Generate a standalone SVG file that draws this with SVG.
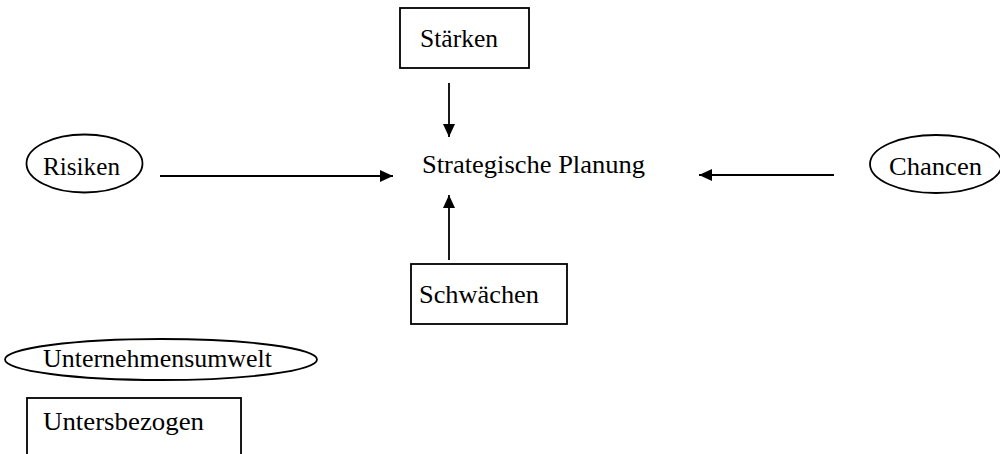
<svg xmlns="http://www.w3.org/2000/svg" width="1000" height="454" viewBox="0 0 1000 454">
<style>
.shape{fill:#fff;stroke:#000;stroke-width:1.8}
.lbl{font-family:"Liberation Serif","Times New Roman",serif;font-size:26px;fill:#000}
.conn{stroke:#000;stroke-width:1.8;fill:none;marker-end:url(#ah)}
</style>
<defs>
<marker id="ah" viewBox="0 0 13 12" refX="13" refY="6" markerWidth="13" markerHeight="12" markerUnits="userSpaceOnUse" orient="auto">
<path d="M0,0 L13,6 L0,12 Z" fill="#000"/>
</marker>
</defs>
<rect width="1000" height="454" fill="#fff"/>
<g id="connectors">
<line class="conn" x1="449" y1="83" x2="449" y2="137"/>
<line class="conn" x1="160" y1="176" x2="393" y2="176"/>
<line class="conn" x1="834" y1="175" x2="699" y2="175"/>
<line class="conn" x1="449" y1="260" x2="449" y2="195"/>
</g>
<g id="staerken">
<rect class="shape" x="400" y="8" width="129" height="60"/>
<text class="lbl" x="420" y="47" textLength="78" lengthAdjust="spacingAndGlyphs">Stärken</text>
</g>
<g id="strategische-planung">
<text class="lbl" x="422" y="173" textLength="223" lengthAdjust="spacingAndGlyphs">Strategische Planung</text>
</g>
<g id="risiken">
<ellipse class="shape" cx="84.5" cy="163.5" rx="58" ry="29"/>
<text class="lbl" x="43" y="175" textLength="77" lengthAdjust="spacingAndGlyphs">Risiken</text>
</g>
<g id="chancen">
<ellipse class="shape" cx="936" cy="164" rx="66" ry="29"/>
<text class="lbl" x="889" y="175" textLength="93" lengthAdjust="spacingAndGlyphs">Chancen</text>
</g>
<g id="schwaechen">
<rect class="shape" x="411" y="264" width="156" height="60"/>
<text class="lbl" x="419" y="303" textLength="120" lengthAdjust="spacingAndGlyphs">Schwächen</text>
</g>
<g id="unternehmensumwelt">
<ellipse class="shape" cx="161" cy="359.5" rx="156" ry="20.5"/>
<text class="lbl" x="43" y="367" textLength="229" lengthAdjust="spacingAndGlyphs">Unternehmensumwelt</text>
</g>
<g id="untersbezogen">
<rect class="shape" x="27" y="398" width="214" height="70"/>
<text class="lbl" x="43" y="430" textLength="161" lengthAdjust="spacingAndGlyphs">Untersbezogen</text>
</g>
</svg>
